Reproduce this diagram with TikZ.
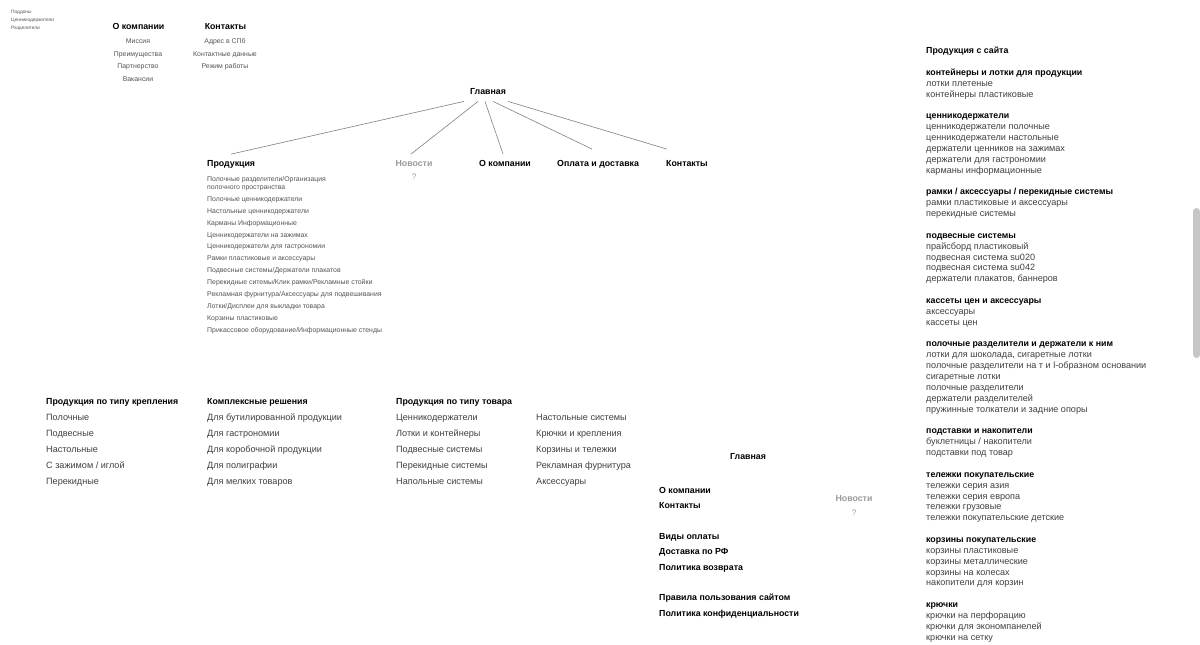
\documentclass[tikz,border=0pt]{standalone}
\usepackage{fontspec}
\setmainfont{Liberation Sans}
\definecolor{itemc}{HTML}{404040}
\definecolor{smallc}{HTML}{555555}
\definecolor{newsc}{HTML}{9A9A9A}
\definecolor{linec}{HTML}{808080}
\definecolor{barc}{HTML}{C6C6C6}
\begin{document}
\begin{tikzpicture}[x=1pt,y=-1pt,
  every node/.style={inner sep=0pt},
  tinytxt/.style={font=\fontsize{4.8}{6}\selectfont, text=smallc, anchor=west, text height=3.5pt, text depth=0pt},
  hd/.style={font=\fontsize{8.8}{11}\selectfont\bfseries, text=black, text height=6.4pt, text depth=0pt},
  smalltxt/.style={font=\fontsize{6.9}{8}\selectfont, text=smallc, text height=5pt, text depth=0pt},
  itemtxt/.style={font=\fontsize{9.1}{11}\selectfont, text=itemc, anchor=west, text height=6.6pt, text depth=0pt},
  newshd/.style={hd, text=newsc},
  tgt/.style={inner ysep=5.5pt},
  conn/.style={draw=linec, line width=0.6pt}
]
\fill[white] (0,0) rectangle (1200,645);
\useasboundingbox (0,0) rectangle (1200,645);

% tiny top-left list
\node[tinytxt] (t1) at (11,12) {Поддоны};
\node[tinytxt] (t2) at (11,20) {Ценникодержатели};
\node[tinytxt] (t3) at (11,28) {Разделители};

% top menus
\node[hd] (ab) at (138.5,26) {О компании};
\node[smalltxt] (ab1) at (138,41) {Миссия};
\node[smalltxt] (ab2) at (138,54) {Преимущества};
\node[smalltxt] (ab3) at (138,66) {Партнерство};
\node[smalltxt] (ab4) at (138,79) {Вакансии};
\node[hd] (co) at (225.5,26) {Контакты};
\node[smalltxt] (co1) at (225,41) {Адрес в СПб};
\node[smalltxt] (co2) at (225,54) {Контактные данные};
\node[smalltxt] (co3) at (225,66) {Режим работы};

% main tree
\node[hd, inner ysep=7pt] (gl) at (488,91) {Главная};
\node[hd, tgt, anchor=west] (prod) at (207,163) {Продукция};
\node[newshd, tgt] (news) at (414,163) {Новости};
\node[smalltxt, text=newsc, font=\fontsize{8}{9}\selectfont] (q) at (414,177) {?};
\node[hd, tgt, anchor=west] (abm) at (479,163) {О компании};
\node[hd, tgt, anchor=west] (pay) at (557,163) {Оплата и доставка};
\node[hd, tgt, anchor=west] (ctm) at (666,163) {Контакты};

\draw[conn] ([xshift=-24]gl.south) -- (prod.north);
\draw[conn] ([xshift=-10]gl.south) -- ([xshift=-3]news.north);
\draw[conn] ([xshift=-3]gl.south) -- ([xshift=-2]abm.north);
\draw[conn] ([xshift=5]gl.south) -- ([shift={(-6,-5)}]pay.north);
\draw[conn] ([xshift=20]gl.south) -- ([shift={(-20,-5)}]ctm.north);

% product list
\foreach \k/\yy/\t in {
  1/179/{Полочные разделители/Организация},
  2/187/{полочного пространства},
  3/199/{Полочные ценникодержатели},
  4/211/{Настольные ценникодержатели},
  5/223/{Карманы Информационные},
  6/235/{Ценникодержатели на зажимах},
  7/246/{Ценникодержатели для гастрономии},
  8/258/{Рамки пластиковые и аксессуары},
  9/270/{Подвесные системы/Держатели плакатов},
  10/282/{Перекидные ситемы/Клик рамки/Рекламные стойки},
  11/294/{Рекламная фурнитура/Аксессуары для подвешивания},
  12/306/{Лотки/Дисплеи для выкладки товара},
  13/318/{Корзины пластиковые},
  14/330/{Прикассовое оборудование/Информационные стенды}}
  \node[smalltxt, anchor=west] (pl\k) at (207,\yy) {\t};

% bottom-left columns
\node[hd, anchor=west] (bk) at (46,401) {Продукция по типу крепления};
\node[itemtxt] (bk1) at (46,417) {Полочные};
\node[itemtxt] (bk2) at (46,433) {Подвесные};
\node[itemtxt] (bk3) at (46,449) {Настольные};
\node[itemtxt] (bk4) at (46,465) {С зажимом / иглой};
\node[itemtxt] (bk5) at (46,481) {Перекидные};

\node[hd, anchor=west] (ks) at (207,401) {Комплексные решения};
\node[itemtxt] (ks1) at (207,417) {Для бутилированной продукции};
\node[itemtxt] (ks2) at (207,433) {Для гастрономии};
\node[itemtxt] (ks3) at (207,449) {Для коробочной продукции};
\node[itemtxt] (ks4) at (207,465) {Для полиграфии};
\node[itemtxt] (ks5) at (207,481) {Для мелких товаров};

\node[hd, anchor=west] (tt) at (396,401) {Продукция по типу товара};
\node[itemtxt] (tt1) at (396,417) {Ценникодержатели};
\node[itemtxt] (tt2) at (396,433) {Лотки и контейнеры};
\node[itemtxt] (tt3) at (396,449) {Подвесные системы};
\node[itemtxt] (tt4) at (396,465) {Перекидные системы};
\node[itemtxt] (tt5) at (396,481) {Напольные системы};
\node[itemtxt] (tt6) at (536,417) {Настольные системы};
\node[itemtxt] (tt7) at (536,433) {Крючки и крепления};
\node[itemtxt] (tt8) at (536,449) {Корзины и тележки};
\node[itemtxt] (tt9) at (536,465) {Рекламная фурнитура};
\node[itemtxt] (tt10) at (536,481) {Аксессуары};

% footer block
\node[hd] (gl2) at (748,456) {Главная};
\node[hd, anchor=west] (f1) at (659,490) {О компании};
\node[hd, anchor=west] (f2) at (659,505) {Контакты};
\node[hd, anchor=west] (f3) at (659,536) {Виды оплаты};
\node[hd, anchor=west] (f4) at (659,551) {Доставка по РФ};
\node[hd, anchor=west] (f5) at (659,567) {Политика возврата};
\node[hd, anchor=west] (f6) at (659,597) {Правила пользования сайтом};
\node[hd, anchor=west] (f7) at (659,613) {Политика конфиденциальности};
\node[newshd] (news2) at (854,498) {Новости};
\node[smalltxt, text=newsc, font=\fontsize{8}{9}\selectfont] (q2) at (854,513) {?};

% right column
\node[hd, anchor=west] (site) at (926,50) {Продукция с сайта};
\foreach \k/\t in {
  0/{контейнеры и лотки для продукции},
  4/{ценникодержатели},
  11/{рамки / аксессуары / перекидные системы},
  15/{подвесные системы},
  21/{кассеты цен и аксессуары},
  25/{полочные разделители и держатели к ним},
  33/{подставки и накопители},
  37/{тележки покупательские},
  43/{корзины покупательские},
  49/{крючки}}
  \node[hd, anchor=west] (rh\k) at (926,72+\k*10.865) {\t};
\foreach \k/\t in {
  1/{лотки плетеные},
  2/{контейнеры пластиковые},
  5/{ценникодержатели полочные},
  6/{ценникодержатели настольные},
  7/{держатели ценников на зажимах},
  8/{держатели для гастрономии},
  9/{карманы информационные},
  12/{рамки пластиковые и аксессуары},
  13/{перекидные системы},
  16/{прайсборд пластиковый},
  17/{подвесная система su020},
  18/{подвесная система su042},
  19/{держатели плакатов, баннеров},
  22/{аксессуары},
  23/{кассеты цен},
  26/{лотки для шоколада, сигаретные лотки},
  27/{полочные разделители на т и l-образном основании},
  28/{сигаретные лотки},
  29/{полочные разделители},
  30/{держатели разделителей},
  31/{пружинные толкатели и задние опоры},
  34/{буклетницы / накопители},
  35/{подставки под товар},
  38/{тележки серия азия},
  39/{тележки серия европа},
  40/{тележки грузовые},
  41/{тележки покупательские детские},
  44/{корзины пластиковые},
  45/{корзины металлические},
  46/{корзины на колесах},
  47/{накопители для корзин},
  50/{крючки на перфорацию},
  51/{крючки для экономпанелей},
  52/{крючки на сетку}}
  \node[itemtxt] (ri\k) at (926,72+\k*10.865) {\t};

% scrollbar
\fill[barc, rounded corners=3.5pt] (1193,208) rectangle (1200,358);
\end{tikzpicture}
\end{document}
